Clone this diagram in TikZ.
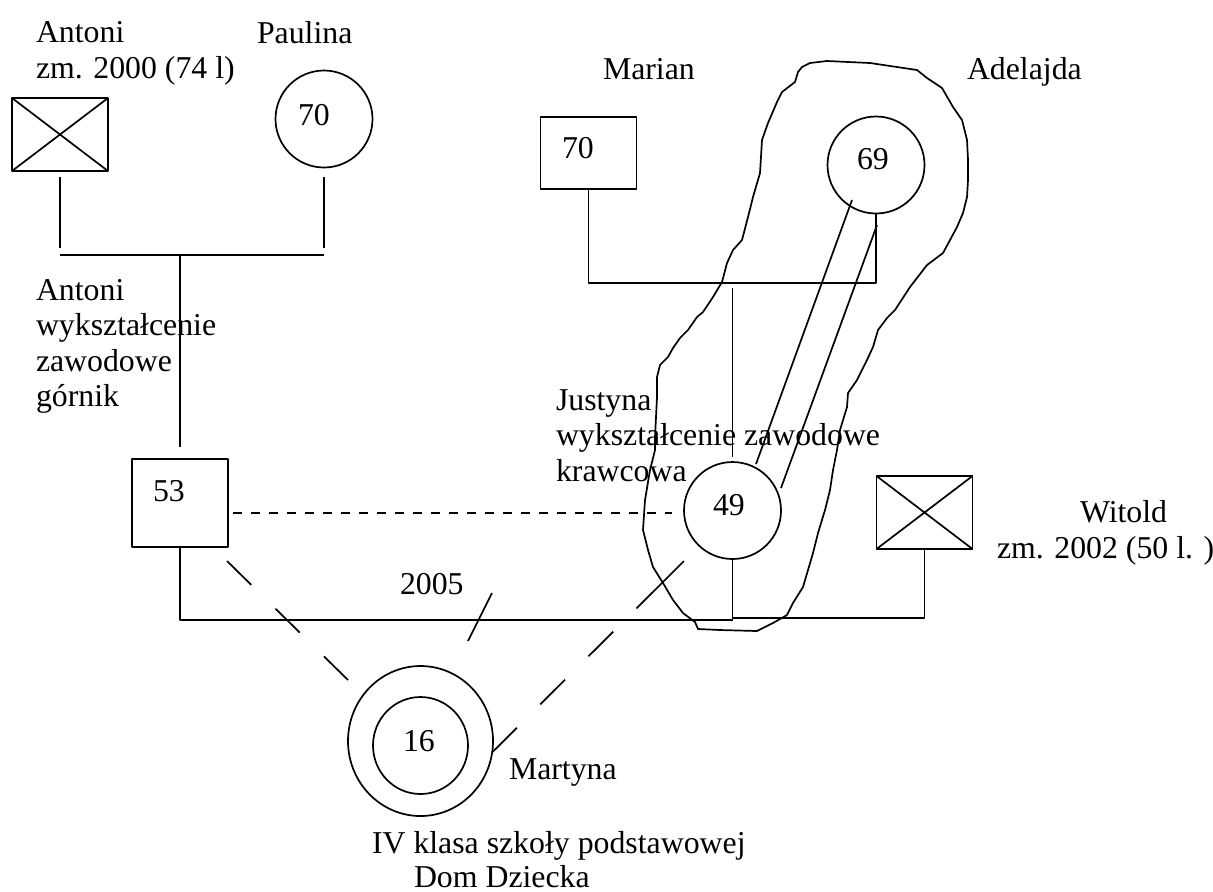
\documentclass[tikz,border=0pt]{standalone}
\usepackage{fontspec}
\setmainfont{Liberation Serif}
\usetikzlibrary{shapes.geometric}
\begin{document}
\begin{tikzpicture}[x=0.5pt, y=-0.5pt, line width=0.85pt, line join=round,
	font=\fontsize{15.9pt}{17.75pt}\selectfont,
	every node/.style={inner sep=0pt, outer sep=0pt},
	txt/.style={anchor=base west, align=left},
	male/.style={draw, rectangle, minimum width=48pt, minimum height=#1},
	dead/.style={path picture={\draw (path picture bounding box.north west) -- (path picture bounding box.south east) (path picture bounding box.north east) -- (path picture bounding box.south west);}},
	female/.style={draw, circle, minimum size=48.5pt},
	longdash/.style={dash pattern=on 17pt off 17pt}]
	\useasboundingbox (0,0) rectangle (1213,891);
	% osoby
	\node[male=36.5pt, dead] (antoni) at (60,134.5) {};
	\node[female] (paulina) at (324,119) {};
	\node[male=36pt] (marian) at (588.5,153) {};
	\node[female] (adelajda) at (876,165) {};
	\node[male=44pt] (antek) at (180,503) {};
	\node[female] (justyna) at (732.5,510.5) {};
	\node[male=36.5pt, dead] (witold) at (924.5,512.5) {};
	\node[draw, ellipse, minimum width=72.5pt, minimum height=75pt] (martyna) at (420.5,741) {};
	\node[draw, ellipse, minimum width=47.5pt, minimum height=48.5pt] (martynain) at (420.5,745.5) {};
	% wiek
	\node[txt] (paulinawiek) at (298,125) {70};
	\node[txt] (antekwiek) at (153,501) {53};
	\node[txt] (marianwiek) at (562,158) {70};
	\node[txt] (adelajdawiek) at (857,169) {69};
	\node[txt] (justynawiek) at (713,515) {49};
	\node[txt] (martynawiek) at (403,751) {16};
	% opisy (base = ostatnia linia)
	\node[txt] (antonilab) at (36,78) {Antoni\\zm. 2000 (74 l)};
	\node[txt] (paulinalab) at (257,43) {Paulina};
	\node[txt] (marianlab) at (603,79) {Marian};
	\node[txt] (adelajdalab) at (967,79) {Adelajda};
	\node[txt] (anteklab) at (36,406.5) {Antoni\\wykształcenie\\zawodowe\\górnik};
	\node[txt] (justynalab) at (556,481) {Justyna\\wykształcenie zawodowe\\krawcowa};
	\node[txt] (witoldlab) at (1080,522) {Witold};
	\node[txt] (witoldzm) at (997,558) {zm. 2002 (50 l. )};
	\node[txt] (rok) at (400,594) {2005};
	\node[txt] (martynalab) at (509,779) {Martyna};
	\node[txt] (szkola) at (372,853) {IV klasa szkoły podstawowej};
	\node[txt] (dom) at (414,887) {Dom Dziecka};
	% linie
	\coordinate (slubL) at (60,255);
	\coordinate (slubP) at (324,255);
	\draw ([yshift=-3pt]antoni.south) -- ++(0,71);
	\draw ([yshift=-4.75pt]paulina.south) -- ++(0,71);
	\draw (slubL) -- (slubP);
	\draw (180,255) -- ([yshift=6pt]antek.north);
	\draw (marian.south) -- ++(0,94) -| (adelajda.south);
	\draw (732.5,288) -- ([yshift=2.5pt]justyna.north);
	\draw (antek.south) |- (732.5,620);
	\draw (justyna.south) -- (732.5,618) -| (witold.south);
	\draw[dash pattern=on 4.5pt off 4.5pt] (233,513) -- (672,513);
	\draw[longdash] (227,561) -- (348,680);
	\draw[dash pattern=on 33.5pt off 16.5pt on 17.5pt off 16.5pt on 17.5pt off 16.5pt on 17.5pt] (684,561) -- (martyna.-9.5);
	\draw (492,593) -- (468,641);
	\draw (852,200) -- (756,464);
	\draw (877,225) -- (781,488);
	% obwiednia
	\draw (798,72) -- (802,67) -- (810,63) -- (827,61) -- (870,63) -- (917,70) -- (927,78) -- (942,88) -- (953,107) -- (962,120) -- (967,140) -- (968,160) -- (968,180) -- (967,197) -- (963,213) -- (957,227) -- (950,240) -- (943,253) -- (927,265) -- (910,287) -- (895,310) -- (887,318) -- (878,330) -- (873,347) -- (867,360) -- (857,380) -- (848,393) -- (847,407) -- (840,430) -- (837,450) -- (833,470) -- (830,490) -- (825,510) -- (818,533) -- (813,553) -- (808,570) -- (803,587) -- (793,603) -- (787,615) -- (773,623) -- (757,631) -- (720,630) -- (698,629) -- (695,622) -- (683,613) -- (673,600) -- (663,583) -- (653,567) -- (648,550) -- (643,530) -- (645,500) -- (650,470) -- (655,450) -- (655,437) -- (657,397) -- (657,377) -- (660,365) -- (668,357) -- (673,348) -- (680,338) -- (688,330) -- (697,317) -- (703,312) -- (713,297) -- (722,282) -- (727,263) -- (733,250) -- (742,240) -- (748,217) -- (753,197) -- (760,173) -- (762,140) -- (768,123) -- (777,102) -- (782,92) -- (795,82) -- cycle;
\end{tikzpicture}
\end{document}
